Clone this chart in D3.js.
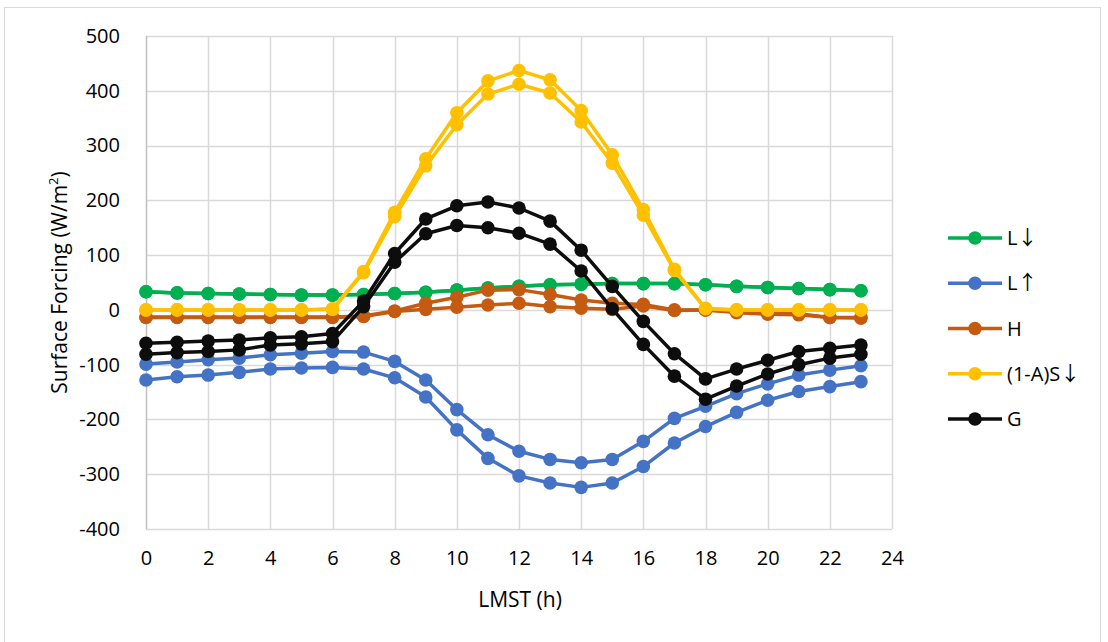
<!DOCTYPE html>
<html><head><meta charset="utf-8">
<script src="https://cdn.jsdelivr.net/npm/d3@7/dist/d3.min.js"></script>
<style>body{margin:0;background:#fff;} text{font-family:"Open Sans",sans-serif;fill:#000;}</style>
</head><body><svg id="c" width="1108" height="642"></svg>
<script>
const hours = d3.range(0, 24);
const xTicks = [0,2,4,6,8,10,12,14,16,18,20,22,24];
const yTicks = [-400,-300,-200,-100,0,100,200,300,400,500];
const seriesNames = ["L↓","L↑","H","(1-A)S↓","G"];
const seriesColors = ["#00B050","#4472C4","#C55A11","#FFC000","#0D0D0D"];

const Ldown_a = [33,31,30,29,28,27,27,28,30,32,36,40,43,46,47,48,48,48,46,43,41,39,37,35];
const Ldown_b = [33,31,30,29,28,27,27,28,30,32,36,40,43,46,47,48,48,48,46,43,41,39,37,35];
const Lup_a = [-99,-95,-91,-88,-82,-79,-76,-77,-94,-128,-182,-228,-258,-273,-279,-273,-240,-198,-176,-153,-135,-119,-110,-102];
const Lup_b = [-128,-122,-119,-114,-108,-106,-105,-108,-124,-159,-219,-271,-303,-316,-324,-316,-286,-243,-213,-187,-165,-149,-140,-131];
const H_a = [-13,-13,-13,-13,-13,-13,-13,-11,-2,12,23,36,37,28,18,12,10,0,0,-5,-8,-9,-14,-14];
const H_b = [-14,-14,-14,-14,-14,-14,-14,-12,-3,1,5,9,12,6,3,1,7,-1,0,-3,-6,-7,-14,-15];
const S_a = [0,0,0,0,0,0,2,70,178,276,360,418,437,420,364,283,183,74,3,0,0,0,0,0];
const S_b = [0,0,0,0,0,0,1,68,170,263,338,394,412,396,343,268,173,72,2,0,0,0,0,0];
const G_a = [-61,-59,-57,-55,-51,-49,-43,16,103,166,190,197,186,162,109,43,-21,-80,-126,-108,-92,-76,-70,-64];
const G_b = [-81,-78,-76,-73,-64,-62,-58,6,87,139,154,150,140,120,71,2,-63,-121,-163,-139,-117,-100,-88,-81];

const groups = [[Ldown_a,Ldown_b],[Lup_a,Lup_b],[H_a,H_b],[S_a,S_b],[G_a,G_b]];

const svg = d3.select("#c");
svg.append("rect").attr("x",4.5).attr("y",7.5).attr("width",1096).attr("height",640)
  .attr("fill","#fff").attr("stroke","#d9d9d9").attr("stroke-width",1);

const L=146, R=892, T=36, B=529;
const x = d3.scaleLinear().domain([0,24]).range([L,R]);
const y = d3.scaleLinear().domain([-400,500]).range([B,T]);

// gridlines
const g = svg.append("g");
g.selectAll(".hg").data(yTicks).join("line")
  .attr("x1",L).attr("x2",R).attr("y1",d=>Math.round(y(d))+0.5).attr("y2",d=>Math.round(y(d))+0.5)
  .attr("stroke","#d9d9d9").attr("stroke-width",1.5);
g.selectAll(".vg").data(xTicks).join("line")
  .attr("y1",T).attr("y2",B).attr("x1",d=>Math.round(x(d))+0.5).attr("x2",d=>Math.round(x(d))+0.5)
  .attr("stroke",d=>d===0?"#bfbfbf":"#d9d9d9").attr("stroke-width",1.5);

// axes
const fmt = d => String(d);
const yAxis = d3.axisLeft(y).tickValues(yTicks).tickSize(0).tickPadding(26).tickFormat(fmt);
const ya = svg.append("g").attr("transform",`translate(${L},0)`).call(yAxis);
ya.select(".domain").remove();
ya.selectAll("text").attr("font-size",20).attr("font-family","Open Sans").attr("fill","#000");
const xAxis = d3.axisBottom(x).tickValues(xTicks).tickSize(0).tickPadding(22).tickFormat(fmt);
const xa = svg.append("g").attr("transform",`translate(0,${B})`).call(xAxis);
xa.select(".domain").remove();
xa.selectAll("text").attr("font-size",20).attr("font-family","Open Sans").attr("fill","#000");

svg.append("text").attr("x",(L+R)/2 + 1).attr("y",607).attr("text-anchor","middle")
  .attr("font-size",21).text("LMST (h)");
const yt = svg.append("text").attr("transform",`translate(67,${(T+B)/2}) rotate(-90)`)
  .attr("text-anchor","middle").attr("font-size",21);
yt.append("tspan").text("Surface Forcing (W/m");
yt.append("tspan").attr("font-size",13).attr("dy",-9).text("2");
yt.append("tspan").attr("dy",9).text(")");

// series
const line = d3.line().x((d,i)=>x(hours[i])).y(d=>y(d));
groups.forEach((pair,k)=>{
  const col = seriesColors[k];
  const sg = svg.append("g");
  pair.forEach(vals=>{
    sg.append("path").attr("d",line(vals)).attr("fill","none").attr("stroke",col)
      .attr("stroke-width",3.5).attr("stroke-linejoin","round");
    sg.selectAll(null).data(vals).join("circle")
      .attr("cx",(d,i)=>x(hours[i])).attr("cy",d=>y(d)).attr("r",6.8).attr("fill",col);
  });
});

// legend
const lg = svg.append("g");
const ly = d3.scalePoint().domain(seriesNames).range([238,419]);
seriesNames.forEach((n,k)=>{
  const yy = ly(n);
  lg.append("line").attr("x1",948).attr("x2",1002).attr("y1",yy).attr("y2",yy)
    .attr("stroke",seriesColors[k]).attr("stroke-width",3.5);
  lg.append("circle").attr("cx",975).attr("cy",yy).attr("r",6.8).attr("fill",seriesColors[k]);
  const t = lg.append("text").attr("x",1007).attr("y",yy).attr("dy","0.36em").attr("font-size",20);
  // split arrows into a separate tspan with a font that has full-size arrows
  n.split(/([↓↑])/).filter(s=>s.length).forEach(part=>{
    const ts = t.append("tspan").text(part);
    if (part==="↓"||part==="↑") ts.attr("font-family","Noto Sans CJK SC");
  });
});
</script></body></html>
